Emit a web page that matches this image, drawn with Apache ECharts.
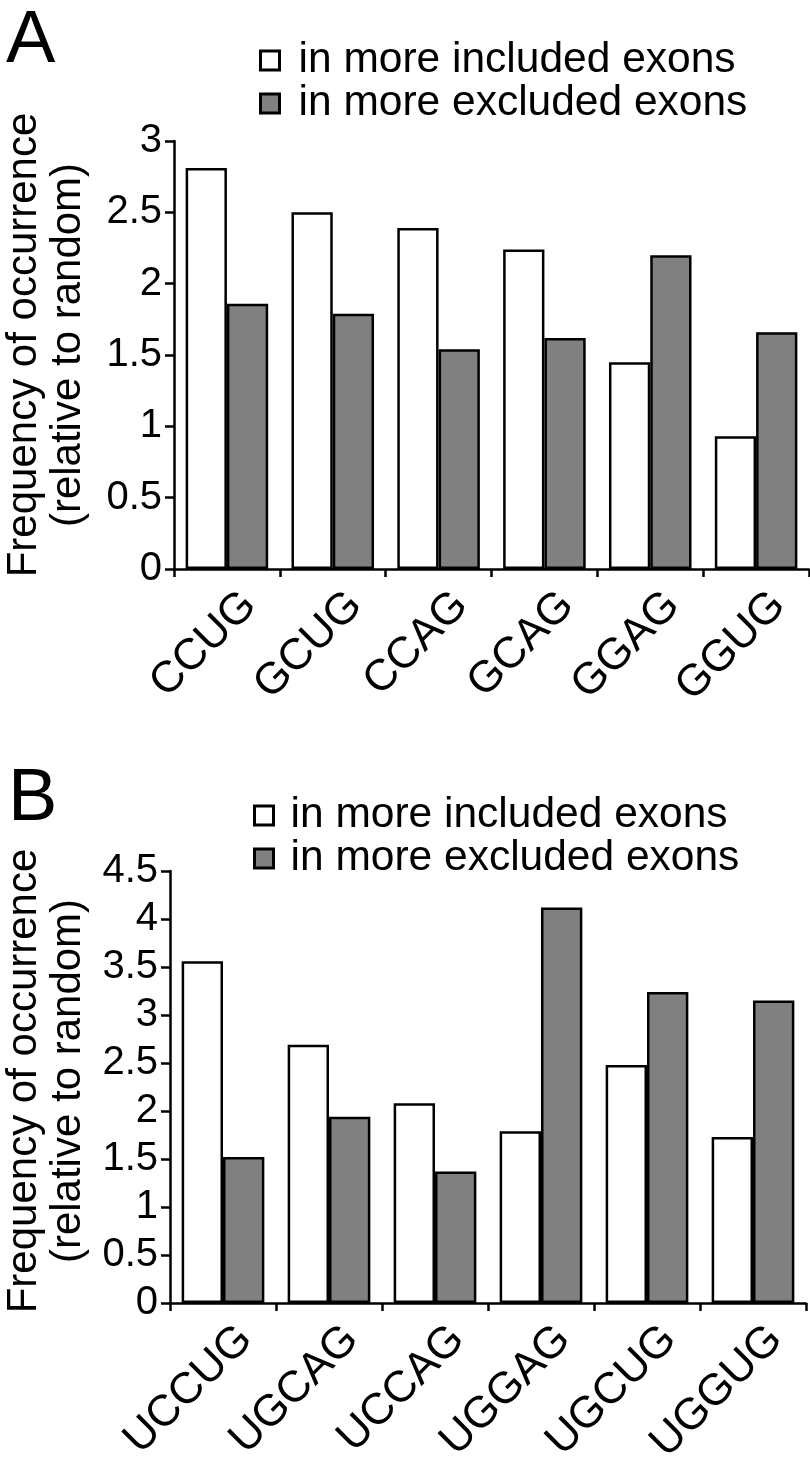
<!DOCTYPE html>
<html>
<head>
<meta charset="utf-8">
<script src="https://cdn.jsdelivr.net/npm/echarts@6/dist/echarts.min.js"></script>
<style>
html,body{margin:0;padding:0;background:#fff;}
#chart{width:810px;height:1464px;}
</style>
</head>
<body>
<div id="chart"></div>
<script>
const seriesNames = ['in more included exons', 'in more excluded exons'];
const catsA = ['CCUG', 'GCUG', 'CCAG', 'GCAG', 'GGAG', 'GGUG'];
const inclA = [2.81, 2.50, 2.39, 2.24, 1.45, 0.93];
const exclA = [1.86, 1.79, 1.54, 1.62, 2.20, 1.66];
const catsB = ['UCCUG', 'UGCAG', 'UCCAG', 'UGGAG', 'UGCUG', 'UGGUG'];
const inclB = [3.56, 2.69, 2.08, 1.79, 2.48, 1.73];
const exclB = [1.52, 1.94, 1.37, 4.12, 3.24, 3.15];
const yName = 'Frequency of occurrence\n(relative to random)';

const FONT = "'Liberation Sans', Arial, Helvetica, sans-serif";
const chart = echarts.init(document.getElementById('chart'), null, {renderer: 'canvas'});

function xAx(gi, cats) {
  return {
    type: 'category', gridIndex: gi, data: cats,
    axisLine: {lineStyle: {color: '#000', width: 2.5}},
    axisTick: {show: true, length: 8, lineStyle: {color: '#000', width: 2.5}},
    axisLabel: {
      rotate: 45, margin: 7, fontSize: 44, fontFamily: FONT, color: '#000',
      align: 'right', verticalAlign: 'top', lineHeight: 44, interval: 0,
      padding: [10, 0, 0, 0]
    }
  };
}
function yAx(gi, max, gap, shift) {
  return {
    type: 'value', gridIndex: gi, min: 0, max: max, interval: 0.5,
    splitLine: {show: false},
    axisLine: {show: true, lineStyle: {color: '#000', width: 2.5}},
    axisTick: {show: true, length: 9, lineStyle: {color: '#000', width: 2.5}},
    axisLabel: {fontSize: 40, fontFamily: FONT, color: '#000', margin: 12},
    name: yName, nameLocation: 'middle', nameRotate: 90, nameGap: gap,
    nameTextStyle: {fontSize: 42, fontFamily: FONT, color: '#000', lineHeight: 44, align: 'center',
      padding: [0, 0, 0, shift]}
  };
}
function bar(name, data, gi, color) {
  return {
    name: name, type: 'bar', xAxisIndex: gi, yAxisIndex: gi, data: data,
    barGap: '0%', barCategoryGap: '22%',
    itemStyle: {color: color, borderColor: '#000', borderWidth: 2.5},
    emphasis: {disabled: true}
  };
}
function leg(left, top, gap) {
  return {
    data: seriesNames, orient: 'vertical', left: left, top: top,
    icon: 'rect', itemWidth: 19, itemHeight: 19, itemGap: 0,
    selectedMode: false,
    itemStyle: {borderWidth: 3, borderColor: '#000'},
    textStyle: {fontSize: 42.5, fontFamily: FONT, color: '#000', lineHeight: 42, padding: [0, 0, 0, gap]}
  };
}

chart.setOption({
  backgroundColor: '#fff',
  animation: false,
  title: [
    {text: 'A', left: 1, top: 0, textStyle: {fontSize: 74, fontWeight: 'normal', fontFamily: FONT, color: '#000'}},
    {text: 'B', left: 3, top: 758, textStyle: {fontSize: 74, fontWeight: 'normal', fontFamily: FONT, color: '#000'}}
  ],
  legend: [leg(254, 34, 14), leg(248, 789, 12)],
  grid: [
    {left: 174, right: 1, top: 141, bottom: 895, containLabel: false, outerBoundsMode: 'none'},
    {left: 170, right: 4, top: 871, bottom: 161, containLabel: false, outerBoundsMode: 'none'}
  ],
  xAxis: [xAx(0, catsA), xAx(1, catsB)],
  yAxis: [yAx(0, 3, 84, 20), yAx(1, 4.5, 80, 12)],
  series: [
    bar(seriesNames[0], inclA, 0, '#ffffff'),
    bar(seriesNames[1], exclA, 0, '#808080'),
    bar(seriesNames[0], inclB, 1, '#ffffff'),
    bar(seriesNames[1], exclB, 1, '#808080')
  ]
});
</script>
</body>
</html>
